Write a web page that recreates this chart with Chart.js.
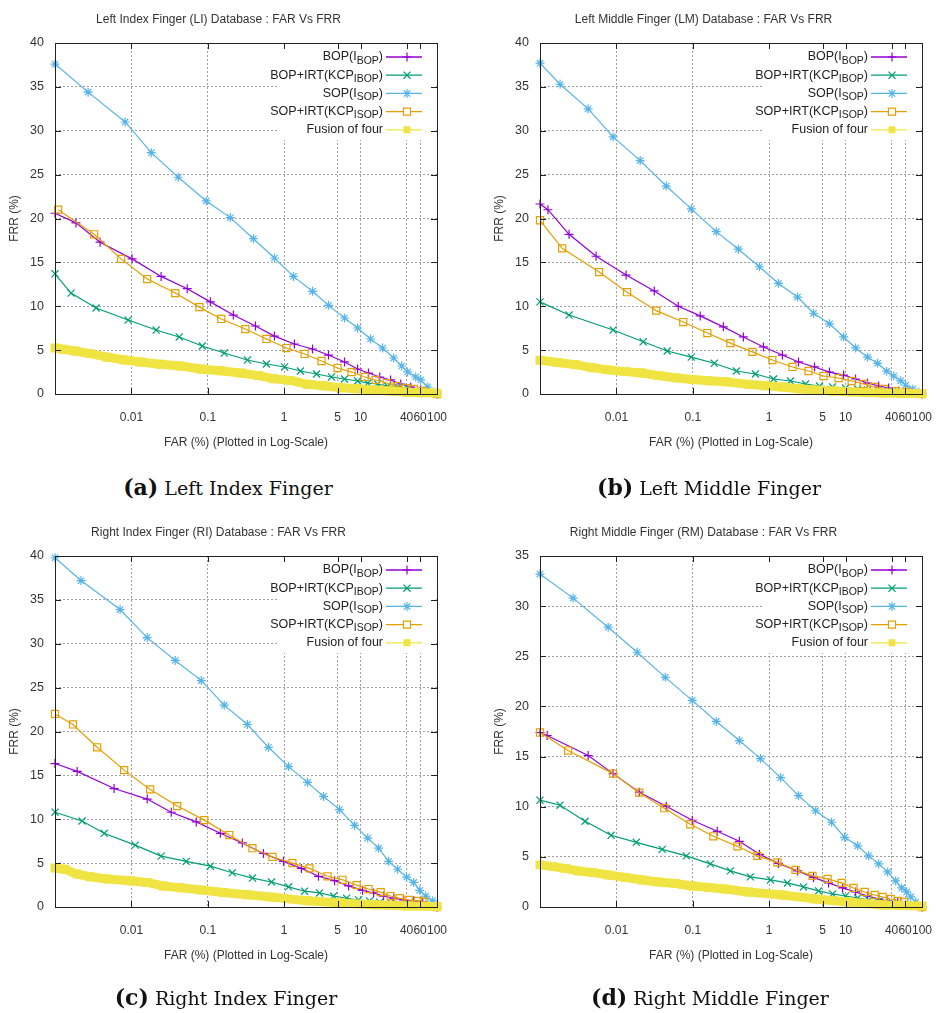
<!DOCTYPE html>
<html>
<head>
<meta charset="utf-8">
<script src="https://cdn.jsdelivr.net/npm/chart.js@4.4.0/dist/chart.umd.min.js"></script>
<style>
  body { margin: 0; background: #fff; width: 938px; height: 1013px; overflow: hidden; position: relative; }
  .panel { position: absolute; width: 490px; height: 470px; }
  .caption { position: absolute; width: 470px; height: 30px; text-align: center; font-family: 'DejaVu Serif', 'Liberation Serif', serif; font-size: 19px; line-height: 30px; color: #111; white-space: nowrap; }
  .caption b { font-size: 22px; font-weight: bold; }
</style>
</head>
<body>
<div class="panel" style="left:0;top:0"><canvas id="chartLI"></canvas></div>
<div class="panel" style="left:485px;top:0"><canvas id="chartLM"></canvas></div>
<div class="panel" style="left:0;top:513px"><canvas id="chartRI"></canvas></div>
<div class="panel" style="left:485px;top:513px"><canvas id="chartRM"></canvas></div>
<div class="caption" style="left:-7px;top:472px"><b>(a)</b> Left Index Finger</div>
<div class="caption" style="left:474px;top:472px"><b>(b)</b> Left Middle Finger</div>
<div class="caption" style="left:-9px;top:982px"><b>(c)</b> Right Index Finger</div>
<div class="caption" style="left:475px;top:982px"><b>(d)</b> Right Middle Finger</div>
<script>
const FONT = "'Liberation Sans Narrow', 'Liberation Sans', Arial, sans-serif";

// x axis ticks (log scale, FAR %)
const xTicks = [0.01, 0.1, 1, 5, 10, 40, 60, 100];

// Left Index Finger (LI)
const liBopFar = [0.001, 0.00188, 0.00389, 0.0102, 0.0245, 0.0538, 0.108, 0.216, 0.42, 0.745, 1.36, 2.35, 3.8, 6.16, 9.14, 12.7, 17.8, 24.7, 33.5, 45.3, 61.2, 100];
const liBopFrr = [20.6, 19.5, 17.3, 15.4, 13.4, 12.0, 10.5, 9.0, 7.75, 6.6, 5.7, 5.13, 4.44, 3.65, 2.85, 2.39, 1.94, 1.6, 1.14, 0.8, 0.46, 0];
const liBopIrtFar = [0.001, 0.00162, 0.00345, 0.00906, 0.0211, 0.0423, 0.0847, 0.164, 0.33, 0.585, 1.01, 1.63, 2.65, 4.17, 6.16, 9.14, 12.4, 16.7, 22.6, 30.5, 41.3, 61.2, 100];
const liBopIrtFrr = [13.7, 11.5, 9.8, 8.43, 7.29, 6.5, 5.47, 4.67, 3.87, 3.42, 3.08, 2.62, 2.28, 1.94, 1.71, 1.48, 1.25, 1.14, 0.91, 0.8, 0.68, 0.34, 0];
const liSopFar = [0.001, 0.00271, 0.00828, 0.0182, 0.041, 0.0955, 0.197, 0.395, 0.745, 1.32, 2.35, 3.8, 6.16, 9.14, 13.5, 19.4, 27.1, 34.5, 41.3, 52.6, 61.2, 75.6, 90.6, 100];
const liSopFrr = [37.6, 34.4, 31.0, 27.5, 24.7, 22.0, 20.1, 17.7, 15.5, 13.4, 11.7, 10.1, 8.66, 7.52, 6.27, 5.24, 4.1, 3.19, 2.51, 1.94, 1.6, 0.8, 0.23, 0];
const liSopIrtFar = [0.0011, 0.00325, 0.00734, 0.0161, 0.0375, 0.0776, 0.15, 0.31, 0.585, 1.07, 1.85, 3.08, 4.99, 7.62, 11.3, 15.7, 21.9, 29.6, 38.9, 49.5, 65, 100];
const liSopIrtFrr = [21.0, 18.2, 15.4, 13.1, 11.5, 9.9, 8.55, 7.4, 6.27, 5.24, 4.56, 3.76, 2.96, 2.5, 1.94, 1.6, 1.25, 0.91, 0.68, 0.57, 0.34, 0];
const liFusionFar = [0.001, 0.00127, 0.00183, 0.00288, 0.00481, 0.0078, 0.013, 0.0238, 0.0436, 0.0798, 0.146, 0.267, 0.459, 0.722, 1.21, 2.02, 3.27, 5.47, 9.14, 14.8, 24.7, 41.3, 61.2, 100];
const liFusionFrr = [5.25, 5.1, 4.9, 4.6, 4.2, 3.9, 3.65, 3.4, 3.2, 2.85, 2.65, 2.4, 2.1, 1.75, 1.55, 1.1, 0.95, 0.7, 0.6, 0.45, 0.35, 0.2, 0.15, 0.1];

// Left Middle Finger (LM)
const lmBopFar = [0.001, 0.00127, 0.0024, 0.00542, 0.0134, 0.0313, 0.0645, 0.125, 0.251, 0.459, 0.841, 1.49, 2.42, 3.92, 6.16, 9.42, 13.5, 19.4, 27.1, 36.6, 49.5, 100];
const lmBopFrr = [21.65, 21.0, 18.2, 15.7, 13.55, 11.75, 10.0, 8.9, 7.65, 6.5, 5.36, 4.44, 3.65, 3.08, 2.5, 2.16, 1.71, 1.25, 0.91, 0.68, 0.34, 0];
const lmBopIrtFar = [0.001, 0.0024, 0.00906, 0.0224, 0.0463, 0.0955, 0.191, 0.372, 0.66, 1.14, 1.9, 2.99, 4.56, 6.76, 10, 14.4, 19.4, 27.1, 41.3, 61.2, 100];
const lmBopIrtFrr = [10.5, 9.0, 7.3, 5.95, 4.9, 4.2, 3.5, 2.62, 2.28, 1.71, 1.48, 1.14, 0.91, 0.8, 0.68, 0.57, 0.46, 0.34, 0.25, 0.15, 0];
const lmSopFar = [0.001, 0.00183, 0.00427, 0.00906, 0.0205, 0.0449, 0.0955, 0.203, 0.395, 0.745, 1.32, 2.35, 3.8, 6.16, 9.42, 13.5, 19.4, 26.3, 34.5, 42.7, 52.6, 61.2, 75.6, 90.6, 100];
const lmSopFrr = [37.7, 35.3, 32.5, 29.3, 26.6, 23.7, 21.1, 18.5, 16.5, 14.5, 12.6, 11.05, 9.2, 8.0, 6.5, 5.25, 4.2, 3.5, 2.6, 2.05, 1.5, 1.0, 0.55, 0.2, 0];
const lmSopIrtFar = [0.001, 0.00195, 0.00594, 0.0138, 0.0332, 0.075, 0.155, 0.31, 0.603, 1.1, 2.02, 3.27, 5.14, 8.09, 12.0, 17.2, 23.3, 31.5, 45.3, 61.2, 100];
const lmSopIrtFrr = [19.8, 16.6, 13.9, 11.6, 9.5, 8.2, 6.95, 5.8, 4.8, 3.87, 3.08, 2.62, 2.05, 1.82, 1.48, 1.14, 0.8, 0.57, 0.34, 0.23, 0];
const lmFusionFar = [0.001, 0.00172, 0.00288, 0.00481, 0.0078, 0.013, 0.0218, 0.0353, 0.0589, 0.0984, 0.16, 0.267, 0.535, 0.893, 1.49, 2.42, 4.05, 6.76, 11, 18.3, 30.5, 52.6, 100];
const lmFusionFrr = [3.85, 3.6, 3.35, 3.0, 2.75, 2.55, 2.4, 2.1, 1.85, 1.65, 1.5, 1.4, 1.1, 0.95, 0.8, 0.6, 0.45, 0.35, 0.25, 0.18, 0.12, 0.08, 0.05];

// Right Index Finger (RI)
const riBopFar = [0.001, 0.00195, 0.00594, 0.0161, 0.0332, 0.0706, 0.146, 0.283, 0.535, 0.978, 1.68, 2.81, 4.56, 6.96, 10.6, 14.8, 20.0, 27.1, 36.6, 49.5, 65.0, 100];
const riBopFrr = [16.35, 15.45, 13.5, 12.3, 10.8, 9.7, 8.4, 7.3, 6.1, 5.2, 4.4, 3.5, 3.0, 2.4, 1.9, 1.6, 1.25, 1.0, 0.8, 0.7, 0.55, 0];
const riBopIrtFar = [0.001, 0.00226, 0.0044, 0.0112, 0.0245, 0.0522, 0.108, 0.209, 0.384, 0.681, 1.14, 1.85, 2.9, 4.42, 6.55, 9.42, 13.1, 17.8, 24.7, 41.3, 61.2, 100];
const riBopIrtFrr = [10.8, 9.8, 8.4, 7.05, 5.8, 5.2, 4.65, 3.9, 3.3, 2.85, 2.3, 1.8, 1.6, 1.25, 1.0, 0.8, 0.7, 0.55, 0.5, 0.35, 0.2, 0];
const riSopFar = [0.001, 0.00219, 0.00711, 0.0161, 0.0375, 0.0822, 0.164, 0.33, 0.621, 1.14, 2.02, 3.27, 5.3, 8.34, 12.4, 17.2, 23.3, 30.5, 40.1, 49.5, 59.4, 71.2, 87.9, 100];
const riSopFrr = [39.8, 37.2, 33.9, 30.7, 28.1, 25.8, 23.0, 20.8, 18.2, 16.0, 14.2, 12.6, 11.1, 9.3, 7.85, 6.7, 5.2, 4.3, 3.4, 2.8, 1.9, 1.25, 0.7, 0];
const riSopIrtFar = [0.001, 0.00172, 0.00356, 0.00804, 0.0176, 0.0398, 0.09, 0.191, 0.384, 0.702, 1.28, 2.14, 3.69, 5.8, 8.87, 12.7, 18.3, 24.7, 32.4, 42.6, 56.0, 67.0, 100];
const riSopIrtFrr = [22.0, 20.8, 18.2, 15.6, 13.4, 11.5, 9.9, 8.2, 6.7, 5.7, 5.0, 4.4, 3.5, 3.1, 2.5, 2.05, 1.7, 1.25, 1.0, 0.8, 0.7, 0.6, 0];
const riFusionFar = [0.001, 0.00135, 0.00195, 0.00288, 0.00481, 0.00963, 0.0161, 0.026, 0.0436, 0.0798, 0.159, 0.33, 0.722, 2.02, 5.47, 14.8, 41.3, 100];
const riFusionFrr = [4.45, 4.3, 3.75, 3.45, 3.2, 3.0, 2.8, 2.4, 2.2, 1.95, 1.65, 1.4, 1.1, 0.7, 0.45, 0.25, 0.12, 0.05];

// Right Middle Finger (RM)
const rmBopFar = [0.001, 0.00124, 0.00427, 0.00906, 0.0199, 0.0449, 0.0984, 0.209, 0.407, 0.745, 1.32, 2.35, 3.8, 5.98, 9.14, 13.5, 19.4, 27.1, 35.5, 48.1, 100];
const rmBopFrr = [17.4, 17.1, 15.1, 13.3, 11.45, 10.05, 8.65, 7.55, 6.55, 5.25, 4.35, 3.6, 2.95, 2.4, 1.9, 1.5, 1.1, 0.8, 0.6, 0.5, 0];
const rmBopIrtFar = [0.001, 0.00183, 0.00389, 0.00853, 0.0182, 0.0398, 0.0822, 0.17, 0.31, 0.567, 1.04, 1.73, 2.81, 4.42, 6.76, 10, 14.4, 20.0, 27.1, 41.3, 61.2, 100];
const rmBopIrtFrr = [10.65, 10.15, 8.55, 7.15, 6.45, 5.75, 5.1, 4.3, 3.6, 3.0, 2.7, 2.4, 2.0, 1.6, 1.3, 1.1, 0.9, 0.7, 0.6, 0.4, 0.25, 0];
const rmSopFar = [0.001, 0.00271, 0.0078, 0.0187, 0.0436, 0.0984, 0.203, 0.407, 0.767, 1.41, 2.42, 4.05, 6.55, 9.7, 14.4, 20.0, 27.1, 35.5, 45.3, 54.2, 63, 71.2, 82.8, 100];
const rmSopFrr = [33.2, 30.8, 27.9, 25.4, 22.9, 20.6, 18.5, 16.6, 14.8, 12.9, 11.1, 9.6, 8.45, 6.95, 6.1, 5.1, 4.3, 3.5, 2.6, 1.9, 1.5, 1.0, 0.5, 0];
const rmSopIrtFar = [0.001, 0.00233, 0.00906, 0.0199, 0.0423, 0.0927, 0.186, 0.384, 0.702, 1.28, 2.21, 3.69, 5.8, 8.87, 12.7, 17.8, 24.0, 30.5, 38.9, 48.1, 57.7, 100];
const rmSopIrtFrr = [17.4, 15.6, 13.3, 11.4, 9.85, 8.25, 7.05, 6.05, 5.1, 4.45, 3.7, 3.1, 2.8, 2.4, 1.9, 1.5, 1.2, 1.0, 0.8, 0.6, 0.5, 0];
const rmFusionFar = [0.001, 0.00144, 0.00213, 0.00315, 0.00481, 0.0078, 0.013, 0.0218, 0.0353, 0.0589, 0.0984, 0.16, 0.267, 0.535, 1.49, 4.05, 11.0, 30.5, 100];
const rmFusionFrr = [4.2, 4.05, 3.85, 3.6, 3.45, 3.2, 2.95, 2.7, 2.5, 2.35, 2.1, 1.95, 1.8, 1.5, 1.2, 0.8, 0.5, 0.2, 0.1];

// legend text pieces: [main, subscript, tail]
const legendParts = [
  ['BOP(I', 'BOP', ')'],
  ['BOP+IRT(KCP', 'IBOP', ')'],
  ['SOP(I', 'SOP', ')'],
  ['SOP+IRT(KCP', 'ISOP', ')'],
  ['Fusion of four', '', '']
];

// gnuplot-like styles for the five curves
const styles = [
  { color: '#9400d3', point: 'cross', radius: 4.5, fill: '#9400d3', width: 1.2 },
  { color: '#009e73', point: 'crossRot', radius: 5, fill: '#009e73', width: 1.2 },
  { color: '#56b4e9', point: 'star', radius: 4.5, fill: '#56b4e9', width: 1.2 },
  { color: '#e69f00', point: 'rect', radius: 5, fill: 'rgba(0,0,0,0)', width: 1.2 },
  { color: '#f0e442', point: 'rect', radius: 5.5, fill: '#f0e442', width: 9 }
];

const insideLegend = {
  id: 'insideLegend',
  beforeDatasetsDraw(chart) {
    const { ctx, chartArea } = chart;
    const r = chartArea.right, t = chartArea.top;
    ctx.save();
    ctx.fillStyle = '#fff';
    ctx.fillRect(r - 160, t + 1, 159, 96);
    styles.forEach((st, i) => {
      const y = t + 14 + i * 18.2;
      const [main, sub, tail] = legendParts[i];
      const bigFont = '12.5px ' + FONT;
      const smallFont = '10.5px ' + FONT;
      ctx.font = bigFont;
      const w1 = ctx.measureText(main).width;
      const w3 = ctx.measureText(tail).width;
      ctx.font = smallFont;
      const w2 = ctx.measureText(sub).width;
      let x = r - 54 - (w1 + w2 + w3);
      ctx.fillStyle = '#222';
      ctx.textBaseline = 'middle';
      ctx.textAlign = 'left';
      ctx.font = bigFont;
      ctx.fillText(main, x, y);
      x += w1;
      ctx.font = smallFont;
      ctx.fillText(sub, x, y + 4);
      x += w2;
      ctx.font = bigFont;
      ctx.fillText(tail, x, y);

      ctx.strokeStyle = st.color;
      ctx.lineWidth = 1.3;
      ctx.beginPath();
      ctx.moveTo(r - 51, y);
      ctx.lineTo(r - 15, y);
      ctx.stroke();
      ctx.fillStyle = st.fill === 'rgba(0,0,0,0)' ? '#fff' : st.fill;
      ctx.lineWidth = 1.2;
      Chart.helpers.drawPoint(ctx, { pointStyle: st.point, radius: i === 4 ? 4 : st.radius, rotation: 0, borderWidth: 1.2 }, r - 30, y);
    });
    ctx.restore();
  }
};

// full box with inward ticks, like gnuplot's border
const gnuFrame = {
  id: 'gnuFrame',
  afterDatasetsDraw(chart) {
    const { ctx, chartArea: a } = chart;
    const xs = chart.scales.x, ys = chart.scales.y;
    ctx.save();
    ctx.strokeStyle = '#222';
    ctx.lineWidth = 1;
    ctx.strokeRect(Math.round(a.left) + 0.5, Math.round(a.top) + 0.5, Math.round(a.right - a.left), Math.round(a.bottom - a.top));
    ctx.beginPath();
    ys.ticks.forEach(tk => {
      const py = Math.round(ys.getPixelForValue(tk.value)) + 0.5;
      ctx.moveTo(a.left, py); ctx.lineTo(a.left + 6, py);
      ctx.moveTo(a.right, py); ctx.lineTo(a.right - 6, py);
    });
    xs.ticks.forEach(tk => {
      const px = Math.round(xs.getPixelForValue(tk.value)) + 0.5;
      ctx.moveTo(px, a.bottom); ctx.lineTo(px, a.bottom - 6);
      ctx.moveTo(px, a.top); ctx.lineTo(px, a.top + 6);
    });
    ctx.stroke();
    ctx.restore();
  }
};

function makePanel(id, title, yMax, series) {
  const datasets = series.map((s, i) => ({
    label: legendParts[i].join(''),
    data: s[0].map((v, k) => ({ x: v, y: s[1][k] })),
    showLine: true,
    borderColor: styles[i].color,
    borderWidth: styles[i].width,
    pointStyle: styles[i].point,
    pointRadius: styles[i].radius,
    pointBorderColor: styles[i].color,
    pointBackgroundColor: styles[i].fill,
    pointBorderWidth: 1.2,
    tension: 0,
    clip: false,
    order: 4 - i
  }));

  new Chart(document.getElementById(id), {
    type: 'scatter',
    data: { datasets: datasets },
    options: {
      responsive: true,
      maintainAspectRatio: false,
      animation: false,
      events: [],
      layout: { padding: { left: 0, right: 53, top: 0, bottom: 0 } },
      plugins: {
        legend: { display: false },
        tooltip: { enabled: false },
        title: {
          display: true,
          text: title,
          color: '#333',
          font: { family: FONT, size: 12, weight: 'normal' },
          padding: { top: 12, bottom: 16.6 }
        }
      },
      scales: {
        x: {
          type: 'logarithmic',
          min: 0.001,
          max: 100,
          afterBuildTicks(scale) { scale.ticks = xTicks.map(v => ({ value: v })); },
          afterFit(scale) { scale.height = 76; },
          ticks: {
            autoSkip: false,
            maxRotation: 0,
            padding: 16,
            color: '#333',
            font: { family: FONT, size: 12 },
            callback: v => String(v)
          },
          grid: { color: '#a0a0a0', drawTicks: false },
          border: { display: false, dash: [2, 2] },
          title: {
            display: true,
            text: 'FAR (%) (Plotted in Log-Scale)',
            color: '#333',
            font: { family: FONT, size: 12 },
            padding: { top: 0, bottom: 20 }
          }
        },
        y: {
          type: 'linear',
          min: 0,
          max: yMax,
          afterFit(scale) { scale.width = 55; },
          ticks: { stepSize: 5, padding: 11, color: '#333', font: { family: FONT, size: 12.5 } },
          grid: { color: '#a0a0a0', drawTicks: false },
          border: { display: false, dash: [2, 2] },
          title: {
            display: true,
            text: 'FRR (%)',
            color: '#333',
            font: { family: FONT, size: 12 },
            padding: { top: 7, bottom: 7 }
          }
        }
      }
    },
    plugins: [insideLegend, gnuFrame]
  });
}

makePanel('chartLI', 'Left Index Finger (LI) Database : FAR Vs FRR', 40, [
  [liBopFar, liBopFrr], [liBopIrtFar, liBopIrtFrr], [liSopFar, liSopFrr], [liSopIrtFar, liSopIrtFrr], [liFusionFar, liFusionFrr]
]);
makePanel('chartLM', 'Left Middle Finger (LM) Database : FAR Vs FRR', 40, [
  [lmBopFar, lmBopFrr], [lmBopIrtFar, lmBopIrtFrr], [lmSopFar, lmSopFrr], [lmSopIrtFar, lmSopIrtFrr], [lmFusionFar, lmFusionFrr]
]);
makePanel('chartRI', 'Right Index Finger (RI) Database : FAR Vs FRR', 40, [
  [riBopFar, riBopFrr], [riBopIrtFar, riBopIrtFrr], [riSopFar, riSopFrr], [riSopIrtFar, riSopIrtFrr], [riFusionFar, riFusionFrr]
]);
makePanel('chartRM', 'Right Middle Finger (RM) Database : FAR Vs FRR', 35, [
  [rmBopFar, rmBopFrr], [rmBopIrtFar, rmBopIrtFrr], [rmSopFar, rmSopFrr], [rmSopIrtFar, rmSopIrtFrr], [rmFusionFar, rmFusionFrr]
]);
</script>
</body>
</html>
